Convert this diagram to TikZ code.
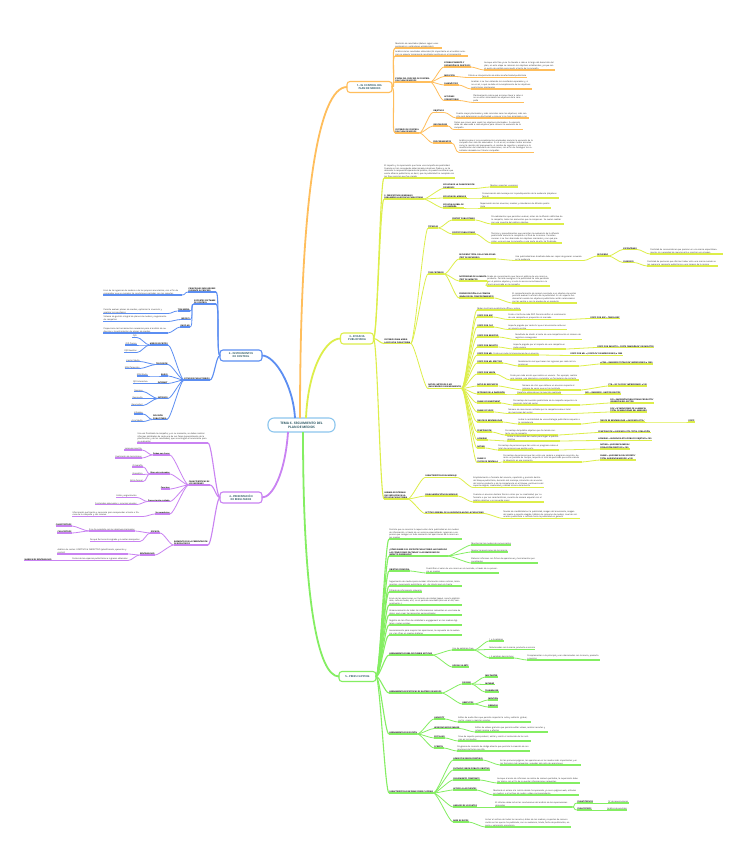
\documentclass[tikz,border=0pt]{standalone}
\usepackage{fontspec}
\setmainfont{Open Sans}
\usetikzlibrary{positioning}

\definecolor{cO}{HTML}{FFBE5C}
\definecolor{cY}{HTML}{DDEE4A}
\definecolor{cB}{HTML}{5C8EF2}
\definecolor{cP}{HTML}{C982F2}
\definecolor{cG}{HTML}{84EE62}
\definecolor{cC}{HTML}{8CC6EE}
\definecolor{hd}{HTML}{2E5A66}
\newcommand{\nfont}{\fontsize{2.1}{2.6}\selectfont}
\newcommand{\lfont}{\fontsize{2}{2.5}\selectfont\bfseries}

\begin{document}
\begin{tikzpicture}[
    x=1pt, y=-1pt,
    inner sep=0.4pt, outer sep=0pt,
    note/.style={font=\nfont, align=left, text=black!85},
    lab/.style={font=\lfont, align=left},
    ul/.style={append after command={(\tikzlastnode.south west) edge[draw=#1, line width=1.2pt] (\tikzlastnode.south east)}},
    tw/.style={text width=#1pt},
    head/.style={draw=#1, line width=1.1pt, rounded corners=3pt, fill=white, font=\fontsize{2.6}{3.1}\selectfont\bfseries, text=hd, align=center, inner xsep=2pt, inner ysep=1.2pt},
    lk/.style={line width=0.8pt, to path={.. controls +(4,0) and +(-4,0) .. (\tikztotarget)}},
    lkl/.style={line width=0.8pt, to path={.. controls +(-4,0) and +(4,0) .. (\tikztotarget)}},
    main/.style={line width=1.8pt},
    lo/.style={lab, ul=cO, anchor=south west},
    no/.style={note, ul=cO, anchor=south west},
    ly/.style={lab, ul=cY, anchor=south west},
    ny/.style={note, ul=cY, anchor=south west},
    lg/.style={lab, ul=cG, anchor=south west},
    ng/.style={note, ul=cG, anchor=south west},
    lb/.style={lab, ul=cB, anchor=south east},
    nb/.style={note, ul=cB, anchor=south east},
    lp/.style={lab, ul=cP, anchor=south east},
    np/.style={note, ul=cP, anchor=south east}
]
    \useasboundingbox (0,0) rectangle (742,848);
    \fill[white] (0,0) rectangle (742,848);

    % centre
    \node[head=cC, rounded corners=6pt, minimum width=67pt, minimum height=14pt, font=\fontsize{3.2}{3.9}\selectfont\bfseries] (root) at (301.5,425) {TEMA 6. SEGUIMIENTO DEL\\PLAN DE MEDIOS};

    % 1.- control del plan de medios
    \node[head=cO, minimum width=45pt, minimum height=11pt] (s1) at (369.5,87) {1.- EL CONTROL DEL\\PLAN DE MEDIOS};
    \node[no, tw=46] (s1med) at (395,48) {Medición de resultados (deben seguir unos parámetros y estándares establecidos)};
    \node[no, tw=72] (s1ana) at (395,56) {Análisis de los resultados obtenidos (Es importante en el análisis anterior no esperar únicamente resultados positivos en el incremento)};
    \node[lo] (s1eta) at (395,82) {ETAPAS DEL PROCESO DE CONTROL\\DEL PLAN DE MEDIOS};
    \node[lo] (s1est) at (444,67) {ESTABLECIMIENTO Y\\DEFINICIÓN DE OBJETIVOS};
    \node[no, tw=70] (s1estn) at (484,70) {Aunque esta fase ya se ha llevado a cabo a lo largo del desarrollo del plan, en esta etapa se retoman los objetivos establecidos, ya que son el punto de partida para medir el éxito de la campaña};
    \node[lo] (s1mdc) at (444,76.5) {MEDICIÓN};
    \node[no] (s1mdcn) at (468,77.5) {Cálculo e interpretación de datos de efectividad publicitaria};
    \node[lo] (s1dia) at (444,85) {DIAGNÓSTICO};
    \node[no, tw=60] (s1dian) at (471,89) {Analizar si se han obtenido los resultados esperados y, si no es así, a qué se debe el incumplimiento de los objetivos publicitarios planteados};
    \node[lo] (s1acc) at (444,100.5) {ACCIONES\\CORRECTORAS};
    \node[no, tw=50] (s1accn) at (473,102.5) {Planteamiento sobre qué acciones llevar a cabo si no se están alcanzando los objetivos de la campaña};
    \node[lo] (s1cri) at (395,133) {CRITERIOS DE CONTROL\\DEL PLAN DE MEDIOS};
    \node[lo] (s1obj) at (433,112.5) {OBJETIVOS};
    \node[no, tw=72] (s1objn) at (456,118) {Cuanto mejor planteados y más concretos sean los objetivos, más sencillo será determinar su efectividad y conocer si se han alcanzado o no};
    \node[lo] (s1ind) at (433,126) {INDICADORES};
    \node[no, tw=68] (s1indn) at (454,129.5) {Datos que sirven para medir los objetivos planteados. Su elección debe ser adecuada a cada objetivo para conocer la evolución de la campaña};
    \node[lo] (s1pro) at (433,143) {PROCEDIMIENTOS};
    \node[no, tw=74] (s1pron) at (459,152.5) {Análisis sobre si los procedimientos empleados durante la ejecución de la campaña han sido los adecuados. Si no es así, se deben tomar acciones como la revisión del presupuesto, el cambio de soportes y espacios o la modificación del calendario de inserciones, con el fin de conseguir los resultados deseados en futuras campañas};

    \draw[cO, lk, line width=1.1pt] (s1.east) to (s1med.south west);
    \draw[cO, lk, line width=1.1pt] (s1.east) to (s1ana.south west);
    \draw[cO, lk, line width=1.1pt] (s1.east) to (s1eta.south west);
    \draw[cO, lk, line width=1.1pt] (s1.east) to (s1cri.south west);
    \draw[cO, lk] (s1eta.south east) to (s1est.south west);
    \draw[cO, lk] (s1eta.south east) to (s1mdc.south west);
    \draw[cO, lk] (s1eta.south east) to (s1dia.south west);
    \draw[cO, lk] (s1eta.south east) to (s1acc.south west);
    \draw[cO, lk] (s1est.south east) to (s1estn.south west);
    \draw[cO, lk] (s1mdc.south east) to (s1mdcn.south west);
    \draw[cO, lk] (s1dia.south east) to (s1dian.south west);
    \draw[cO, lk] (s1acc.south east) to (s1accn.south west);
    \draw[cO, lk] (s1cri.south east) to (s1obj.south west);
    \draw[cO, lk] (s1cri.south east) to (s1ind.south west);
    \draw[cO, lk] (s1cri.south east) to (s1pro.south west);
    \draw[cO, lk] (s1obj.south east) to (s1objn.south west);
    \draw[cO, lk] (s1ind.south east) to (s1indn.south west);
    \draw[cO, lk] (s1pro.south east) to (s1pron.south west);

    % 3.- eficacia publicitaria
    \node[head=cY, minimum width=33pt, minimum height=11pt] (s3) at (357,338.5) {3.- EFICACIA\\PUBLICITARIA};
    \node[ny, tw=70] (s3imp) at (384,178) {El impacto y la repercusión que tiene una campaña de publicidad. Cuando se han conseguido determinados objetivos fijados y se ha obtenido la respuesta esperada del público, se puede considerar que existe eficacia publicitaria, es decir, que la publicidad ha cumplido con los fines para los que fue creada};
    \node[ly] (s3per) at (384,199) {2. PERSPECTIVAS GENERALES\\PARA MEDIR LA EFICACIA PUBLICITARIA};
    \node[ly] (s3pla) at (443,188.5) {EFICACIA DE LA PLANIFICACIÓN\\DE MEDIOS};
    \node[ny] (s3plan) at (490,187) {Medios, soportes y espacios};
    \node[ly] (s3men) at (443,198) {EFICACIA DEL MENSAJE};
    \node[ny, tw=76] (s3menn) at (482,198) {Comunicación del mensaje con la predisposición de la audiencia (objetivos fase 4)};
    \node[ly] (s3glo) at (443,208) {EFICACIA GLOBAL DE\\LA CAMPAÑA};
    \node[ny, tw=70] (s3glon) at (480,208) {Repercusión de los anuncios, medios y calendarios de difusión publicitaria};
    \node[ly] (s3cri) at (384,343.5) {CRITERIOS PARA MEDIR\\LA EFICACIA PUBLICITARIA};
    \node[ly] (s3tec) at (428,228) {TÉCNICAS};
    \node[ly] (s3pre) at (452,220) {PRETEST PUBLICITARIO};
    \node[ny, tw=72] (s3pren) at (491,224) {Procedimientos que permiten evaluar, antes de la difusión definitiva de la campaña, todos los elementos que la componen. Se suelen realizar con una muestra del público objetivo};
    \node[ly] (s3pos) at (452,234) {POSTEST PUBLICITARIO};
    \node[ny, tw=70] (s3posn) at (491,243) {Técnicas y procedimientos que permiten la evaluación de la difusión publicitaria durante la campaña o al final de la misma. Permiten conocer si se han alcanzado los objetivos marcados y con qué precisión, una vez que la campaña, o una parte de ella, ha finalizado};
    \node[ly] (s3tre) at (428,274) {TRES CRITERIOS};
    \node[ly] (s3rec) at (459,259) {RECUERDO TOTAL DE LA PUBLICIDAD\\(TEST DE RECUERDO)};
    \node[ny, tw=68] (s3recn) at (515,260.5) {Una publicidad bien diseñada debe ser capaz de generar recuerdo en la audiencia};
    \node[ly] (s3rcd) at (597,256) {RECUERDO};
    \node[ly] (s3esp) at (623,249.5) {ESPONTÁNEO};
    \node[ny, tw=72] (s3espn) at (650,254) {Cantidad de consumidores que piensan en una marca espontáneamente, sin necesidad de mencionarla o mostrar una imagen};
    \node[ly] (s3sug) at (623,262.5) {SUGERIDO};
    \node[ny, tw=70] (s3sugn) at (647,266) {Cantidad de personas que afirman haber visto una marca cuando se les sugiere la campaña publicitaria o una imagen de la misma};
    \node[ly] (s3not) at (459,281) {NOTORIEDAD DE LA MARCA\\(TEST DE IMPACTO)};
    \node[ny, tw=62] (s3notn) at (487,286) {Grado de conocimiento que tiene el público de una marca o producto. Permite averiguar si la publicidad ha sido percibida por el público objetivo y si este la asocia correctamente a la marca anunciada en la campaña};
    \node[ly] (s3pdc) at (459,298) {PREDISPOSICIÓN A LA COMPRA\\(ANÁLISIS DEL COMPORTAMIENTO)};
    \node[ny, tw=64] (s3pdcn) at (512,303) {El comportamiento de compra asociado a un objetivo de ventas permite evaluar la eficacia de la publicidad. Es un aspecto fundamental cuando los objetivos publicitarios están relacionados con las ventas o con la prueba de un producto};
    \node[ly] (s3kpi) at (428,388.5) {RATIOS, MÉTODOS O KPI\\(INDICADORES DE RENDIMIENTO)};
    \node[ny] (s3mid) at (477,310) {Miden la eficacia publicitaria offline y online};
    \node[ly] (s3grp) at (477,317) {COSTE POR GRP};
    \node[ny, tw=58] (s3grpn) at (508,319.5) {Coste o tarifa de cada GRP. Permite definir el rendimiento de una campaña en proporción al mercado};
    \node[ly] (s3grpf) at (590,318.5) {COSTE POR GRP = TARIFA/GRP};
    \node[ly] (s3cpc) at (477,327) {COSTE POR CLIC};
    \node[ny, tw=58] (s3cpcn) at (508,329.5) {Importe pagado por cada clic que el anunciante recibe en un anuncio online};
    \node[ly] (s3cpr) at (477,337) {COSTE POR REGISTRO};
    \node[ny, tw=66] (s3cprn) at (515,339.5) {Resultado de dividir el coste de una campaña entre el número de registros conseguidos};
    \node[ly] (s3cpi) at (477,347) {COSTE POR IMPACTO};
    \node[ny, tw=52] (s3cpin) at (513,349) {Importe pagado por el impacto de una campaña en cada usuario};
    \node[ly] (s3cpif) at (597,347.5) {COSTE POR IMPACTO = COSTE CAMPAÑA/Nº DE IMPACTOS};
    \node[ly] (s3cpm) at (477,355) {COSTE POR MIL};
    \node[ny] (s3cpmn) at (493,355) {Coste por cada mil impresiones de un anuncio};
    \node[ly] (s3cpmf) at (570,355.5) {COSTE POR MIL = (COSTE/Nº DE IMPRESIONES) x 1000};
    \node[ly] (s3cpe) at (477,363) {COSTE POR MIL EFECTIVO};
    \node[ny, tw=60] (s3cpen) at (518,366) {Rendimiento real que tienen los ingresos por cada mil impresiones};
    \node[ly] (s3cpef) at (600,364) {eCPM = (INGRESOS TOTALES/Nº IMPRESIONES) x 1000};
    \node[ly] (s3cpv) at (477,374) {COSTE POR VENTA};
    \node[ny, tw=68] (s3cpvn) at (510,380) {Coste por cada acción que realiza un usuario. Por ejemplo, realizar una compra, una descarga o completar un formulario de contacto};
    \node[ly] (s3ctr) at (477,386) {RATIO DE RESPUESTA};
    \node[ny, tw=58] (s3ctrn) at (522,390) {Número de clics que obtiene un anuncio respecto al número de veces que se ha mostrado};
    \node[ly] (s3ctrf) at (608,386) {CTR = (Nº CLICS/Nº IMPRESIONES) x 100};
    \node[ly] (s3roi) at (477,394) {RETORNO DE LA INVERSIÓN};
    \node[ny] (s3roin) at (517,394) {Beneficio obtenido por la inversión realizada};
    \node[ly] (s3roif) at (585,394) {ROI = (INGRESOS - GASTOS)/GASTOS};
    \node[ly] (s3soi) at (477,403) {SHARE OF INVESTMENT};
    \node[ny, tw=66] (s3soin) at (513,405) {Porcentaje de inversión publicitaria de la campaña respecto a la inversión total del sector};
    \node[ly] (s3soif) at (610,403) {SOI = INVERSIÓN PUBLICITARIA PRODUCTO/\\INVERSIÓN DEL SECTOR};
    \node[ly] (s3sov) at (477,412) {SHARE OF VOICE};
    \node[ny, tw=64] (s3sovn) at (508,413.5) {Número de menciones recibidas por la campaña sobre el total de menciones del sector};
    \node[ly] (s3sovf) at (610,412) {SOV = Nº MENCIONES DE LA MARCA/\\TOTAL DE MENCIONES DEL MERCADO};
    \node[ly] (s3ren) at (477,422) {ÍNDICE DE RENTABILIDAD};
    \node[ny, tw=62] (s3renn) at (518,424) {Indica la rentabilidad de una estrategia publicitaria respecto a la competencia};
    \node[ly] (s3renf) at (600,422) {ÍNDICE DE RENTABILIDAD = AUDIENCIA ÚTIL/};
    \node[ly] (s3renc) at (688,422) {COSTE};
    \node[ly] (s3pen) at (477,432) {PENETRACIÓN};
    \node[ny, tw=52] (s3penn) at (505,435) {Porcentaje del público objetivo que ha tenido contacto con la campaña};
    \node[ly] (s3penf) at (598,432.5) {PENETRACIÓN = AUDIENCIA ÚTIL/TOTAL POBLACIÓN};
    \node[ly] (s3afi) at (477,440) {AFINIDAD};
    \node[ny, tw=52] (s3afin) at (507,441) {Indica la idoneidad del medio para llegar al público objetivo};
    \node[ly] (s3afif) at (598,440.5) {AFINIDAD = AUDIENCIA ÚTIL/PÚBLICO OBJETIVO x 100};
    \node[ly] (s3rat) at (477,448) {RATING};
    \node[ny, tw=60] (s3ratn) at (498,450) {Porcentaje de personas que han visto un programa sobre el total de personas que podían verlo};
    \node[ly] (s3ratf) at (600,449) {RATING = (AUDIENCIA MEDIA/\\POBLACIÓN OBJETIVO) x 100};
    \node[ly] (s3sha) at (477,462.5) {SHARE O\\CUOTA DE PANTALLA};
    \node[ny, tw=78] (s3shan) at (503,462) {Porcentaje de personas que han visto una cadena o programa concreto, durante un período de tiempo, respecto al total de personas que están viendo la televisión en ese momento};
    \node[ly] (s3shaf) at (600,460) {SHARE = (AUDIENCIA DEL SOPORTE/\\TOTAL AUDIENCIA MEDIOS) x 100};
    \node[ly] (s3var) at (384,499) {VARIABLES EXTERNAS\\QUE INFLUYEN EN LA\\EFICACIA PUBLICITARIA};
    \node[ly] (s3car) at (425,477.5) {CARACTERÍSTICAS DEL MENSAJE};
    \node[ny, tw=70] (s3carn) at (473,487.5) {Emplazamiento o formato del anuncio, repetición y posición dentro del bloque publicitario, duración del mensaje, saturación de anuncios del mismo producto o de la competencia en el bloque, pertinencia del soporte elegido, creatividad y calidad técnica del anuncio};
    \node[ly] (s3sin) at (425,496) {SINGULARIZACIÓN DEL MENSAJE};
    \node[ny, tw=70] (s3sinn) at (473,502) {Cuando un anuncio destaca frente a otros por su creatividad, por su formato o por sus características, conecta de manera especial con el público objetivo y se recuerda mejor};
    \node[ly] (s3act) at (425,513.5) {ACTITUD GENERAL DE LA AUDIENCIA HACIA LA PUBLICIDAD};
    \node[ny, tw=76] (s3actn) at (503,518.5) {Niveles de credibilidad en la publicidad, imagen del anunciante, imagen del medio o soporte elegido, hábitos de consumo de medios, nivel de saturación publicitaria o rechazo hacia la publicidad en general};

    \draw[cY, lk, line width=1.1pt] (s3.east) to (s3imp.south west);
    \draw[cY, lk, line width=1.1pt] (s3.east) to (s3per.south west);
    \draw[cY, lk, line width=1.1pt] (s3.east) to (s3cri.south west);
    \draw[cY, lk, line width=1.1pt] (s3.east) to (s3var.south west);
    \draw[cY, lk] (s3per.south east) to (s3pla.south west);
    \draw[cY, lk] (s3per.south east) to (s3men.south west);
    \draw[cY, lk] (s3per.south east) to (s3glo.south west);
    \draw[cY, lk] (s3pla.south east) to (s3plan.south west);
    \draw[cY, lk] (s3men.south east) to (s3menn.south west);
    \draw[cY, lk] (s3glo.south east) to (s3glon.south west);
    \draw[cY, lk] (s3cri.south east) to (s3tec.south west);
    \draw[cY, lk] (s3cri.south east) to (s3tre.south west);
    \draw[cY, lk] (s3cri.south east) to (s3kpi.south west);
    \draw[cY, lk] (s3tec.south east) to (s3pre.south west);
    \draw[cY, lk] (s3tec.south east) to (s3pos.south west);
    \draw[cY, lk] (s3pre.south east) to (s3pren.south west);
    \draw[cY, lk] (s3pos.south east) to (s3posn.south west);
    \draw[cY, lk] (s3tre.south east) to (s3rec.south west);
    \draw[cY, lk] (s3tre.south east) to (s3not.south west);
    \draw[cY, lk] (s3tre.south east) to (s3pdc.south west);
    \draw[cY, lk] (s3rec.south east) to (s3recn.south west);
    \draw[cY, lk] (s3recn.south east) to (s3rcd.south west);
    \draw[cY, lk] (s3rcd.south east) to (s3esp.south west);
    \draw[cY, lk] (s3rcd.south east) to (s3sug.south west);
    \draw[cY, lk] (s3esp.south east) to (s3espn.south west);
    \draw[cY, lk] (s3sug.south east) to (s3sugn.south west);
    \draw[cY, lk] (s3not.south east) to (s3notn.south west);
    \draw[cY, lk] (s3pdc.south east) to (s3pdcn.south west);
    \draw[cY, lk] (s3kpi.south east) to (s3mid.south west);
    \draw[cY, lk] (s3kpi.south east) to (s3grp.south west);
    \draw[cY, lk] (s3kpi.south east) to (s3cpc.south west);
    \draw[cY, lk] (s3kpi.south east) to (s3cpr.south west);
    \draw[cY, lk] (s3kpi.south east) to (s3cpi.south west);
    \draw[cY, lk] (s3kpi.south east) to (s3cpm.south west);
    \draw[cY, lk] (s3kpi.south east) to (s3cpe.south west);
    \draw[cY, lk] (s3kpi.south east) to (s3cpv.south west);
    \draw[cY, lk] (s3kpi.south east) to (s3ctr.south west);
    \draw[cY, lk] (s3kpi.south east) to (s3roi.south west);
    \draw[cY, lk] (s3kpi.south east) to (s3soi.south west);
    \draw[cY, lk] (s3kpi.south east) to (s3sov.south west);
    \draw[cY, lk] (s3kpi.south east) to (s3ren.south west);
    \draw[cY, lk] (s3kpi.south east) to (s3pen.south west);
    \draw[cY, lk] (s3kpi.south east) to (s3afi.south west);
    \draw[cY, lk] (s3kpi.south east) to (s3rat.south west);
    \draw[cY, lk] (s3kpi.south east) to (s3sha.south west);
    \draw[cY, lk] (s3grp.south east) to (s3grpn.south west);
    \draw[cY, lk] (s3grpn.south east) to (s3grpf.south west);
    \draw[cY, lk] (s3cpc.south east) to (s3cpcn.south west);
    \draw[cY, lk] (s3cpr.south east) to (s3cprn.south west);
    \draw[cY, lk] (s3cpi.south east) to (s3cpin.south west);
    \draw[cY, lk] (s3cpin.south east) to (s3cpif.south west);
    \draw[cY, lk] (s3cpm.south east) to (s3cpmn.south west);
    \draw[cY, lk] (s3cpmn.south east) to (s3cpmf.south west);
    \draw[cY, lk] (s3cpe.south east) to (s3cpen.south west);
    \draw[cY, lk] (s3cpen.south east) to (s3cpef.south west);
    \draw[cY, lk] (s3cpv.south east) to (s3cpvn.south west);
    \draw[cY, lk] (s3ctr.south east) to (s3ctrn.south west);
    \draw[cY, lk] (s3ctrn.south east) to (s3ctrf.south west);
    \draw[cY, lk] (s3roi.south east) to (s3roin.south west);
    \draw[cY, lk] (s3roin.south east) to (s3roif.south west);
    \draw[cY, lk] (s3soi.south east) to (s3soin.south west);
    \draw[cY, lk] (s3soin.south east) to (s3soif.south west);
    \draw[cY, lk] (s3sov.south east) to (s3sovn.south west);
    \draw[cY, lk] (s3sovn.south east) to (s3sovf.south west);
    \draw[cY, lk] (s3ren.south east) to (s3renn.south west);
    \draw[cY, lk] (s3renn.south east) to (s3renf.south west);
    \draw[cY, lk] (s3renf.south east) to (s3renc.south west);
    \draw[cY, lk] (s3pen.south east) to (s3penn.south west);
    \draw[cY, lk] (s3penn.south east) to (s3penf.south west);
    \draw[cY, lk] (s3afi.south east) to (s3afin.south west);
    \draw[cY, lk] (s3afin.south east) to (s3afif.south west);
    \draw[cY, lk] (s3rat.south east) to (s3ratn.south west);
    \draw[cY, lk] (s3ratn.south east) to (s3ratf.south west);
    \draw[cY, lk] (s3sha.south east) to (s3shan.south west);
    \draw[cY, lk] (s3shan.south east) to (s3shaf.south west);
    \draw[cY, lk] (s3var.south east) to (s3car.south west);
    \draw[cY, lk] (s3var.south east) to (s3sin.south west);
    \draw[cY, lk] (s3var.south east) to (s3act.south west);
    \draw[cY, lk] (s3car.south east) to (s3carn.south west);
    \draw[cY, lk] (s3sin.south east) to (s3sinn.south west);
    \draw[cY, lk] (s3act.south east) to (s3actn.south west);

    % 2.- instrumentos de control
    \node[head=cB, minimum width=42pt, minimum height=11pt] (s2) at (241,355.5) {2.- INSTRUMENTOS\\DE CONTROL};
    \node[lb] (s2pri) at (216,292) {PRINCIPALES INDICADORES\\DURANTE EL PROCESO};
    \node[nb, tw=78] (s2prin) at (182,295) {Es el de las agencias de medios o de los propios anunciantes, con el fin de comprobar que se cumplen las condiciones pactadas con los soportes};
    \node[lb] (s2sof) at (216,304) {SOPORTES SOFTWARE\\DE CONTROL};
    \node[lb] (s2tom) at (190,311) {TOM MEDIA};
    \node[nb, tw=64] (s2tomn) at (168,313.5) {Permite evaluar planes de medios, optimizar la inversión y analizar los resultados};
    \node[lb] (s2inf) at (190,319.5) {INFOSYS};
    \node[nb, tw=64] (s2infn) at (168,321.5) {Sistema de gestión integral de planes de medios y seguimiento de campañas};
    \node[lb] (s2imo) at (190,327) {IMOP-HR};
    \node[nb, tw=64] (s2imon) at (168,333) {Proporciona las herramientas necesarias para el análisis de audiencias y la optimización de planes de medios};
    \node[lb] (s2est) at (210,380) {ESTUDIOS PUBLICITARIOS};
    \node[lb] (s2esc) at (168,345) {MEDIOS ESCRITOS};
    \node[nb] (s2ojd) at (137,337.5) {OJD};
    \node[nb] (s2ojp) at (137,345) {OJD Prensa};
    \node[nb] (s2ojr) at (137,352.5) {OJD Revistas};
    \node[lb] (s2tel) at (168,364.5) {TELEVISIÓN};
    \node[nb] (s2kan) at (140,361.5) {Kantar Media};
    \node[nb] (s2egt) at (140,368.5) {EGM Televisión};
    \node[lb] (s2rad) at (168,376) {RADIO};
    \node[nb] (s2egr) at (148,376) {EGM Radio};
    \node[lb] (s2int) at (168,383.5) {INTERNET};
    \node[nb] (s2oji) at (148,383.5) {OJD Interactiva};
    \node[lb] (s2ext) at (168,398.5) {EXTERIOR};
    \node[nb] (s2gmx) at (143,391.5) {Geomex};
    \node[nb] (s2gmd) at (143,398.5) {Geomedia};
    \node[nb] (s2gmk) at (143,405.5) {Geomarket};
    \node[lb] (s2dif) at (167,419.5) {DIFUSIÓN\\PUBLICITARIA};
    \node[nb] (s2ifx) at (143,414) {Infoadex};
    \node[nb] (s2arc) at (143,421.5) {Arce Media};

    \draw[cB, lkl, line width=1.1pt] (s2.west) to (s2pri.south east);
    \draw[cB, lkl, line width=1.1pt] (s2.west) to (s2sof.south east);
    \draw[cB, lkl, line width=1.1pt] (s2.west) to (s2est.south east);
    \draw[cB, lkl] (s2pri.south west) to (s2prin.south east);
    \draw[cB, lkl] (s2sof.south west) to (s2tom.south east);
    \draw[cB, lkl] (s2sof.south west) to (s2inf.south east);
    \draw[cB, lkl] (s2sof.south west) to (s2imo.south east);
    \draw[cB, lkl] (s2tom.south west) to (s2tomn.south east);
    \draw[cB, lkl] (s2inf.south west) to (s2infn.south east);
    \draw[cB, lkl] (s2imo.south west) to (s2imon.south east);
    \draw[cB, lkl] (s2est.south west) to (s2esc.south east);
    \draw[cB, lkl] (s2est.south west) to (s2tel.south east);
    \draw[cB, lkl] (s2est.south west) to (s2rad.south east);
    \draw[cB, lkl] (s2est.south west) to (s2int.south east);
    \draw[cB, lkl] (s2est.south west) to (s2ext.south east);
    \draw[cB, lkl] (s2est.south west) to (s2dif.south east);
    \draw[cB, lkl] (s2esc.south west) to (s2ojd.south east);
    \draw[cB, lkl] (s2esc.south west) to (s2ojp.south east);
    \draw[cB, lkl] (s2esc.south west) to (s2ojr.south east);
    \draw[cB, lkl] (s2tel.south west) to (s2kan.south east);
    \draw[cB, lkl] (s2tel.south west) to (s2egt.south east);
    \draw[cB, lkl] (s2rad.south west) to (s2egr.south east);
    \draw[cB, lkl] (s2int.south west) to (s2oji.south east);
    \draw[cB, lkl] (s2ext.south west) to (s2gmx.south east);
    \draw[cB, lkl] (s2ext.south west) to (s2gmd.south east);
    \draw[cB, lkl] (s2ext.south west) to (s2gmk.south east);
    \draw[cB, lkl] (s2dif.south west) to (s2ifx.south east);
    \draw[cB, lkl] (s2dif.south west) to (s2arc.south east);

    % 4.- presentacion de resultados
    \node[head=cP, minimum width=42pt, minimum height=11pt] (s4) at (241,497.5) {4.- PRESENTACIÓN\\DE RESULTADOS};
    \node[np, tw=70] (s4fin) at (208,443) {Una vez finalizada la campaña, y en su momento, se deben realizar informes detallados de cada una de sus fases (especialmente de la planificación y de los resultados), que se entregan al anunciante para su evaluación};
    \node[lp] (s4car) at (210,485) {CARACTERÍSTICAS DE\\LOS INFORMES};
    \node[lp] (s4cla) at (170,455) {Deben ser claros};
    \node[np] (s4len) at (142,450) {Lenguaje sencillo};
    \node[np] (s4exp) at (142,458) {Explicación de tecnicismos};
    \node[lp] (s4bie) at (170,474) {Bien estructurados};
    \node[np] (s4ort) at (143,467) {Ortografía};
    \node[np] (s4gra) at (143,474.5) {Gramática};
    \node[np] (s4sti) at (143,481.5) {Estilo formal};
    \node[lp] (s4con) at (170,489) {Concisos};
    \node[lp] (s4pre) at (170,501.5) {Presentación cuidada};
    \node[np] (s4org) at (137,497.5) {Estilo y organización};
    \node[np] (s4rec) at (137,504.5) {Contenidos adecuados + recursos visuales};
    \node[lp] (s4com) at (170,514) {Ser completos};
    \node[np, tw=70] (s4comn) at (143,516.5) {Información pertinente y necesaria para comprender el éxito o fracaso de la campaña y sus razones};
    \node[lp] (s4ele) at (208,545) {ELEMENTOS DE LA PRESENTACIÓN\\DE RESULTADOS};
    \node[lp] (s4efi) at (160,533) {EFICACIA};
    \node[np] (s4cum) at (135,531) {Si se ha cumplido con los objetivos planteados};
    \node[lp] (s4cnt) at (72,526) {CUANTITATIVOS};
    \node[lp] (s4cul) at (72,533) {CUALITATIVOS};
    \node[np] (s4for) at (140,541.5) {De qué forma se ha logrado y si existen desajustes};
    \node[lp] (s4ren) at (155,555) {RENTABILIDAD};
    \node[np, tw=70] (s4ana) at (128,554) {Análisis de costes: EFECTIVO \& INEFECTIVO (planificación, ejecución y control)};
    \node[np] (s4cos) at (128,560.5) {Costes de los espacios publicitarios e ingresos obtenidos};
    \node[lp] (s4mar) at (52,560.5) {MARGEN DE RENTABILIDAD};

    \draw[cP, lkl, line width=1.1pt] (s4.west) to (s4fin.south east);
    \draw[cP, lkl, line width=1.1pt] (s4.west) to (s4car.south east);
    \draw[cP, lkl, line width=1.1pt] (s4.west) to (s4ele.south east);
    \draw[cP, lkl] (s4car.south west) to (s4cla.south east);
    \draw[cP, lkl] (s4car.south west) to (s4bie.south east);
    \draw[cP, lkl] (s4car.south west) to (s4con.south east);
    \draw[cP, lkl] (s4car.south west) to (s4pre.south east);
    \draw[cP, lkl] (s4car.south west) to (s4com.south east);
    \draw[cP, lkl] (s4cla.south west) to (s4len.south east);
    \draw[cP, lkl] (s4cla.south west) to (s4exp.south east);
    \draw[cP, lkl] (s4bie.south west) to (s4ort.south east);
    \draw[cP, lkl] (s4bie.south west) to (s4gra.south east);
    \draw[cP, lkl] (s4bie.south west) to (s4sti.south east);
    \draw[cP, lkl] (s4pre.south west) to (s4org.south east);
    \draw[cP, lkl] (s4pre.south west) to (s4rec.south east);
    \draw[cP, lkl] (s4com.south west) to (s4comn.south east);
    \draw[cP, lkl] (s4ele.south west) to (s4efi.south east);
    \draw[cP, lkl] (s4ele.south west) to (s4ren.south east);
    \draw[cP, lkl] (s4efi.south west) to (s4cum.south east);
    \draw[cP, lkl] (s4efi.south west) to (s4for.south east);
    \draw[cP, lkl] (s4cum.south west) to (s4cnt.south east);
    \draw[cP, lkl] (s4cum.south west) to (s4cul.south east);
    \draw[cP, lkl] (s4ren.south west) to (s4ana.south east);
    \draw[cP, lkl] (s4ren.south west) to (s4cos.south east);
    \draw[cP, lkl] (s4cos.south west) to (s4mar.south east);

    % 5.- press clipping
    \node[head=cG, minimum width=37pt, minimum height=10pt] (s5) at (357.5,676.5) {5.- PRESS CLIPPING};
    \node[ng, tw=72] (s5per) at (389,539) {Permite que se conozca la repercusión de la publicidad en los medios de información, a través de un servicio especializado: agencias o empresas que recogen en todo momento las apariciones de la marca en los medios};
    \node[lg] (s5com) at (389,556) {¿CÓMO SABER SI EL SOPORTE PUBLICITARIO HA CUMPLIDO\\LAS CONDICIONES PACTADAS Y LAS REMISIONES DE\\IMPACTO OBSERVADO?};
    \node[ng] (s5mon) at (471,545) {Monitorizar los medios de comunicación};
    \node[ng] (s5rev) at (471,552) {Revisar las apariciones de las marcas};
    \node[ng, tw=66] (s5ela) at (471,563) {Elaborar informes con fichas de apariciones y herramientas personalizadas};
    \node[lg] (s5obj) at (389,571) {OBJETIVO PRINCIPAL};
    \node[ng, tw=72] (s5objn) at (426,573) {Cuantificar el valor de una marca en el mercado, a través de su presencia en medios};
    \node[ng, tw=72] (s5seg) at (389,586) {Seguimiento de medios para recabar información sobre noticias, lanzamientos, repercusión publicitaria, etc. de interés para el cliente};
    \node[ng] (s5fil) at (389,592) {Filtrado de información relevante};
    \node[ng, tw=72] (s5env) at (389,605) {Envío de las apariciones, en formato de calidad (papel, recorte digitalizable, cuña de audio, etc.) en el período acordado (una vez al día, semanalmente...)};
    \node[ng, tw=72] (s5alm) at (389,615) {Almacenamiento de todas las informaciones relevantes en una base de datos, para crear herramientas personalizadas};
    \node[ng, tw=72] (s5reg) at (389,625) {Registro de las cifras de visibilidad o engagement en los medios digitales y redes sociales};
    \node[ng, tw=72] (s5ase) at (389,635) {Asesoramiento para mejorar las apariciones, la respuesta de la audiencia y las cifras en medios digitales};
    \node[lg] (s5her) at (389,655) {HERRAMIENTAS PARA DESCUBRIR NOTICIAS};
    \node[ng] (s5pal) at (452,650) {Uso de palabras clave};
    \node[ng] (s5uno) at (489,641) {1 o 2 palabras};
    \node[ng] (s5rel) at (489,649.5) {Relacionadas con la marca, producto o servicio};
    \node[ng] (s5des) at (489,658) {+ 2 palabras descriptivas};
    \node[ng, tw=72] (s5desn) at (527,660) {Complementan a la principal y van relacionadas con la marca, producto o servicio};
    \node[lg] (s5goo) at (452,667) {GOOGLE ALERTS};
    \node[lg] (s5ras) at (389,693) {HERRAMIENTAS ESPECÍFICAS DE RASTREO DE MEDIOS};
    \node[lg] (s5pag) at (462,684) {DE PAGO};
    \node[lg] (s5mel) at (485,677) {MELTWATER};
    \node[lg] (s5myn) at (485,684.5) {MYNEWS};
    \node[lg] (s5tal) at (485,692) {TALKWALKER};
    \node[lg] (s5gra) at (462,704) {GRATUITOS};
    \node[lg] (s5men) at (488,700) {MENTION};
    \node[lg] (s5bra) at (488,707) {BRAND24};
    \node[lg] (s5edi) at (389,734) {HERRAMIENTAS DE EDICIÓN};
    \node[lg] (s5aud) at (434,719) {AUDACITY};
    \node[ng, tw=72] (s5audn) at (458,722) {Editor de audio libre que permite importar la cuña y editarla: grabar, cortar, copiar o mezclar sonidos};
    \node[lg] (s5win) at (434,728.5) {WINDOWS MOVIE MAKER};
    \node[ng, tw=72] (s5winn) at (475,732) {Editor de vídeos gratuito que permite editar vídeos, realizar recortes y añadir música o efectos};
    \node[lg] (s5eda) at (434,738) {EDIT \& AIR};
    \node[ng, tw=72] (s5edan) at (458,741) {Sirve de soporte para producir, editar y emitir el contenido de las noticias en los medios};
    \node[lg] (s5scr) at (434,748) {SCRATCH};
    \node[ng, tw=72] (s5scrn) at (457,751) {Programa de creación de código abierto que permite la creación de animaciones de forma sencilla};
    \node[lg] (s5inf) at (389,793) {CARACTERÍSTICAS INFORME PRESS CLIPPING};
    \node[lg] (s5apa) at (453,760) {APARICIÓN SEGÚN PRESTIGIO};
    \node[ng, tw=80] (s5apan) at (500,765) {En las primeras páginas, las apariciones en los medios más importantes y en los formatos más relevantes, seguidas del resto de apariciones};
    \node[lg] (s5flt) at (453,770) {FILTRADO SEGÚN PÚBLICO OBJETIVO};
    \node[lg] (s5sgc) at (453,780) {SEGUIMIENTO CONSTANTE};
    \node[ng, tw=82] (s5sgcn) at (497,783) {Aunque el envío de informes se realice de manera periódica, la supervisión debe ser diaria, con el fin de no perder informaciones relevantes};
    \node[lg] (s5acc) at (453,790) {ACCESO A LAS FUENTES};
    \node[ng, tw=85] (s5accn) at (493,795) {Mediante el enlace a la noticia donde ha aparecido, ya sea a páginas web, artículos en medios, o al archivo de audio y vídeo correspondiente};
    \node[lg] (s5ana) at (453,807) {ANÁLISIS DE LOS DATOS};
    \node[ng, tw=76] (s5anan) at (495,807) {El informe debe incluir las conclusiones del análisis de las repercusiones obtenidas};
    \node[lg] (s5cnt) at (577,803) {CUANTITATIVOS};
    \node[ng] (s5cntn) at (608,803) {Nº de repercusiones};
    \node[lg] (s5cul) at (577,810) {CUALITATIVOS};
    \node[ng] (s5culn) at (607,810) {Análisis de prestigio};
    \node[lg] (s5bas) at (453,822) {BASE DE DATOS};
    \node[ng, tw=85] (s5basn) at (485,827) {Incluir el archivo de todos los recursos, datos de los medios y soportes de comunicación en los que se ha publicado, con su audiencia, tirada, fecha de publicación, espacio y valoración económica};

    \draw[cG, lk, line width=1.1pt] (s5.east) to (s5per.south west);
    \draw[cG, lk, line width=1.1pt] (s5.east) to (s5com.south west);
    \draw[cG, lk, line width=1.1pt] (s5.east) to (s5obj.south west);
    \draw[cG, lk, line width=1.1pt] (s5.east) to (s5seg.south west);
    \draw[cG, lk, line width=1.1pt] (s5.east) to (s5fil.south west);
    \draw[cG, lk, line width=1.1pt] (s5.east) to (s5env.south west);
    \draw[cG, lk, line width=1.1pt] (s5.east) to (s5alm.south west);
    \draw[cG, lk, line width=1.1pt] (s5.east) to (s5reg.south west);
    \draw[cG, lk, line width=1.1pt] (s5.east) to (s5ase.south west);
    \draw[cG, lk, line width=1.1pt] (s5.east) to (s5her.south west);
    \draw[cG, lk, line width=1.1pt] (s5.east) to (s5ras.south west);
    \draw[cG, lk, line width=1.1pt] (s5.east) to (s5edi.south west);
    \draw[cG, lk, line width=1.1pt] (s5.east) to (s5inf.south west);
    \draw[cG, lk] (s5com.south east) to (s5mon.south west);
    \draw[cG, lk] (s5com.south east) to (s5rev.south west);
    \draw[cG, lk] (s5com.south east) to (s5ela.south west);
    \draw[cG, lk] (s5obj.south east) to (s5objn.south west);
    \draw[cG, lk] (s5her.south east) to (s5pal.south west);
    \draw[cG, lk] (s5her.south east) to (s5goo.south west);
    \draw[cG, lk] (s5pal.south east) to (s5uno.south west);
    \draw[cG, lk] (s5pal.south east) to (s5rel.south west);
    \draw[cG, lk] (s5pal.south east) to (s5des.south west);
    \draw[cG, lk] (s5des.south east) to (s5desn.south west);
    \draw[cG, lk] (s5ras.south east) to (s5pag.south west);
    \draw[cG, lk] (s5ras.south east) to (s5gra.south west);
    \draw[cG, lk] (s5pag.south east) to (s5mel.south west);
    \draw[cG, lk] (s5pag.south east) to (s5myn.south west);
    \draw[cG, lk] (s5pag.south east) to (s5tal.south west);
    \draw[cG, lk] (s5gra.south east) to (s5men.south west);
    \draw[cG, lk] (s5gra.south east) to (s5bra.south west);
    \draw[cG, lk] (s5edi.south east) to (s5aud.south west);
    \draw[cG, lk] (s5edi.south east) to (s5win.south west);
    \draw[cG, lk] (s5edi.south east) to (s5eda.south west);
    \draw[cG, lk] (s5edi.south east) to (s5scr.south west);
    \draw[cG, lk] (s5aud.south east) to (s5audn.south west);
    \draw[cG, lk] (s5win.south east) to (s5winn.south west);
    \draw[cG, lk] (s5eda.south east) to (s5edan.south west);
    \draw[cG, lk] (s5scr.south east) to (s5scrn.south west);
    \draw[cG, lk] (s5inf.south east) to (s5apa.south west);
    \draw[cG, lk] (s5inf.south east) to (s5flt.south west);
    \draw[cG, lk] (s5inf.south east) to (s5sgc.south west);
    \draw[cG, lk] (s5inf.south east) to (s5acc.south west);
    \draw[cG, lk] (s5inf.south east) to (s5ana.south west);
    \draw[cG, lk] (s5inf.south east) to (s5bas.south west);
    \draw[cG, lk] (s5apa.south east) to (s5apan.south west);
    \draw[cG, lk] (s5sgc.south east) to (s5sgcn.south west);
    \draw[cG, lk] (s5acc.south east) to (s5accn.south west);
    \draw[cG, lk] (s5ana.south east) to (s5anan.south west);
    \draw[cG, lk] (s5anan.south east) to (s5cnt.south west);
    \draw[cG, lk] (s5anan.south east) to (s5cul.south west);
    \draw[cG, lk] (s5cnt.south east) to (s5cntn.south west);
    \draw[cG, lk] (s5cul.south east) to (s5culn.south west);
    \draw[cG, lk] (s5bas.south east) to (s5basn.south west);

    % main branches
    \draw[cB, main] ([xshift=-6.5pt]root.north) .. controls (293,385) and (275,355.5) .. (s2.east);
    \draw[cO, main] ([xshift=-1.5pt]root.north) .. controls (300,200) and (318,87) .. (s1.west);
    \draw[cY, main] ([xshift=4.5pt]root.north) .. controls (308,370) and (325,338.5) .. (s3.west);
    \draw[cP, main] ([xshift=-13.5pt]root.south) .. controls (285,475) and (272,497.5) .. (s4.east);
    \draw[cG, main] ([xshift=1.5pt]root.south) .. controls (303,600) and (318,676.5) .. (s5.west);
\end{tikzpicture}
\end{document}
